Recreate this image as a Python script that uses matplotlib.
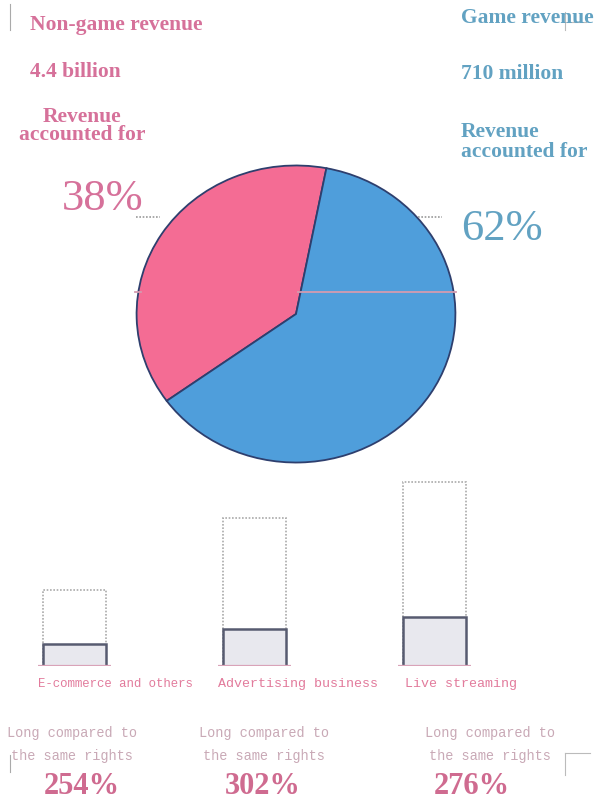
import matplotlib
matplotlib.use("Agg")
import matplotlib.pyplot as plt

W, H = 601, 801

# ---- data ----
pie_labels = ["Non-game revenue", "Game revenue"]
pie_amounts = ["4.4 billion", "710 million"]
pie_shares = [38, 62]
pie_colors = ["#f46c94", "#4f9edb"]

categories = ["E-commerce and others", "Advertising business", "Live streaming"]
current_vals = [76, 148, 184]
previous_vals = [22, 37, 49]
growth_labels = ["254%", "302%", "276%"]

pink = "#d6719a"
blue = "#62a2c2"
pale = "#c9a9b6"

fig = plt.figure(figsize=(W / 100, H / 100), dpi=100)
fig.patch.set_facecolor("white")


def T(x, y, s, **kw):
    kw.setdefault("va", "center")
    fig.text(x / W, 1 - y / H, s, **kw)


def ax_px(left, top, width, height):
    return fig.add_axes([left / W, 1 - (top + height) / H, width / W, height / H])


# ---- pie ----
cx, cy, rx, ry = 296, 314, 161, 150
pax = ax_px(cx - rx, cy - ry, 2 * rx, 2 * ry)
pax.pie(pie_shares, colors=pie_colors, startangle=79, counterclock=True,
        radius=1, wedgeprops=dict(edgecolor="#2e3f6e", linewidth=1.3))
pax.set_aspect("auto")
pax.set_xlim(-1.01, 1.01)
pax.set_ylim(-1.01, 1.01)
pax.axis("off")

# decorative lines around the pie
ov = ax_px(0, 0, W, H)
ov.set_xlim(0, W)
ov.set_ylim(H, 0)
ov.axis("off")
ov.patch.set_alpha(0)
ov.plot([136, 160], [217, 217], color="#999999", lw=1.2, ls=(0, (1, 1)))
ov.plot([418, 442], [217, 217], color="#999999", lw=1.2, ls=(0, (1, 1)))
ov.plot([298, 456], [292, 292], color="#d39bb0", lw=1.3)
ov.plot([135, 141], [292, 292], color="#d39bb0", lw=1.3)
ov.plot([10, 10], [4, 30], color="#aaaaaa", lw=0.8)
ov.plot([565, 586], [22, 22], color="#bbbbbb", lw=0.8)
ov.plot([565, 565], [12, 30], color="#bbbbbb", lw=0.8)
ov.plot([10, 10], [755, 772], color="#aaaaaa", lw=0.8)
ov.plot([565, 590], [753, 753], color="#bbbbbb", lw=0.8)
ov.plot([565, 565], [753, 775], color="#bbbbbb", lw=0.8)

# ---- pie text ----
serif = "Liberation Serif"
fs = 15.5
T(30, 25, pie_labels[0], color=pink, fontsize=fs, fontweight="bold", family=serif)
T(30, 72, pie_amounts[0], color=pink, fontsize=fs, fontweight="bold", family=serif)
T(82, 126, "Revenue\naccounted for", color=pink, fontsize=fs, fontweight="bold",
  family=serif, ha="center", linespacing=0.8)
T(62, 199, f"{pie_shares[0]}%", color=pink, fontsize=32, family=serif)

T(461, 18, pie_labels[1], color=blue, fontsize=fs, fontweight="bold", family=serif)
T(461, 74, pie_amounts[1], color=blue, fontsize=fs, fontweight="bold", family=serif)
T(461, 142, "Revenue\naccounted for", color=blue, fontsize=fs, fontweight="bold",
  family=serif, ha="left", linespacing=1.05)
T(461, 229, f"{pie_shares[1]}%", color=blue, fontsize=32, family=serif)

# ---- bars ----
step = 180
bw = 63 / step
bax = ax_px(74.5 - 0.35 * step, 466, 2.7 * step, 200)
xs = list(range(len(categories)))
bax.bar(xs, current_vals, width=bw, facecolor="none", edgecolor="#aaaaaa",
        linewidth=1.2, linestyle=(0, (1, 1)))
bax.bar(xs, previous_vals, width=bw, facecolor="#e8e8ee", edgecolor="#575b70",
        linewidth=1.8)
bax.hlines([0] * len(xs), [x - bw / 2 - 0.03 for x in xs],
           [x + bw / 2 + 0.03 for x in xs], color="#d9a3b8", lw=1.6)
bax.set_xlim(-0.35, 2.35)
bax.set_ylim(0, 200)
bax.axis("off")
bax.patch.set_alpha(0)

mono = "Liberation Mono"
label_x = [38, 218, 405]
label_fs = [8.9, 9.6, 9.6]
for lx, c, lf in zip(label_x, categories, label_fs):
    T(lx, 684, c, color="#e27b9c", fontsize=lf, family=mono, ha="left")

note_x = [72, 264, 490]
pct_x = [82, 263, 472]
for nx, px_, g in zip(note_x, pct_x, growth_labels):
    T(nx, 733, "Long compared to", color=pale, fontsize=9.8, family=mono, ha="center")
    T(nx, 756, "the same rights", color=pale, fontsize=9.8, family=mono, ha="center")
    T(px_, 786, g, color="#cf6b90", fontsize=22, fontweight="bold", family=serif,
      ha="center")

fig.savefig("out.png", dpi=100)
